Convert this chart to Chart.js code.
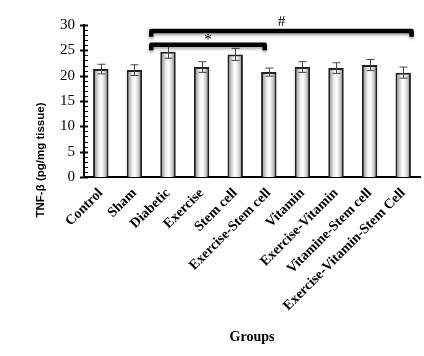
<!DOCTYPE html>
<html>
<head>
<meta charset="utf-8">
<script src="https://cdn.jsdelivr.net/npm/chart.js@4.4.1/dist/chart.umd.min.js"></script>
<style>
  html, body { margin: 0; padding: 0; background: #ffffff; }
  #wrap { width: 424px; height: 356px; position: relative; }
</style>
</head>
<body>
<div id="wrap"><canvas id="c" width="424" height="356"></canvas></div>
<script>
// ---- data ----
const categories = ['Control', 'Sham', 'Diabetic', 'Exercise', 'Stem cell', 'Exercise-Stem cell',
  'Vitamin', 'Exercise-Vitamin', 'Vitamine-Stem cell', 'Exercise-Vitamin-Stem Cell'];
const meanValues = [21.3, 21.1, 24.7, 21.7, 24.2, 20.7, 21.7, 21.5, 22.1, 20.6];
const errorValues = [0.95, 1.05, 1.25, 1.05, 1.2, 0.8, 1.05, 1.05, 1.1, 1.1];
const yTickValues = [0, 5, 10, 15, 20, 25, 30];
const yAxisTitle = 'TNF-β (pg/mg tissue)';
const xAxisTitle = 'Groups';
// significance brackets: label, start category, end category, bracket level (value units)
const bracketLabels = ['*', '#'];
const bracketStart = [2, 2];
const bracketEnd = [5, 9];
const bracketLevel = [26.1, 28.8];

const serif = '"Liberation Serif", "Times New Roman", serif';

function barGradient(ctx) {
  const chart = ctx.chart;
  if (!chart.chartArea || ctx.type !== 'data') return '#dddddd';
  const x = chart.scales.x;
  const cx = x.getPixelForValue(ctx.dataIndex);
  const cw = x.width / categories.length;
  const w = cw * 0.46;
  const g = chart.ctx.createLinearGradient(cx - w / 2, 0, cx + w / 2, 0);
  g.addColorStop(0, '#6a6a6a');
  g.addColorStop(0.18, '#b4b4b4');
  g.addColorStop(0.38, '#f2f2f2');
  g.addColorStop(0.55, '#ffffff');
  g.addColorStop(0.78, '#c8c8c8');
  g.addColorStop(1, '#555555');
  return g;
}

const extrasPlugin = {
  id: 'extras',
  afterDatasetsDraw(chart) {
    const { ctx, scales: { x, y } } = chart;
    const cw = x.width / categories.length;
    ctx.save();
    // error bars
    ctx.strokeStyle = '#444444';
    ctx.lineWidth = 1;
    meanValues.forEach((v, i) => {
      const cx = Math.round(x.getPixelForValue(i)) + 0.5;
      const yt = y.getPixelForValue(v + errorValues[i]);
      const yb = y.getPixelForValue(v - errorValues[i]);
      ctx.beginPath();
      ctx.moveTo(cx, yt); ctx.lineTo(cx, yb);
      ctx.moveTo(cx - 4, yt); ctx.lineTo(cx + 4, yt);
      ctx.moveTo(cx - 4, yb); ctx.lineTo(cx + 4, yb);
      ctx.stroke();
    });
    // minor / major ticks on y axis
    const ax = x.left;
    ctx.strokeStyle = '#000000';
    for (let v = y.min; v <= y.max; v += 1) {
      const py = Math.round(y.getPixelForValue(v)) + 0.5;
      ctx.beginPath();
      if (v % 5 === 0) { ctx.lineWidth = 2; ctx.moveTo(ax - 4, py); ctx.lineTo(ax + 4, py); }
      else { ctx.lineWidth = 1; ctx.moveTo(ax, py); ctx.lineTo(ax + 4, py); }
      ctx.stroke();
    }
    // significance brackets
    bracketLabels.forEach((lab, k) => {
      const x1 = x.getPixelForValue(bracketStart[k]) - cw * 0.5;
      const x2 = k === 0 ? x.getPixelForValue(bracketEnd[k]) - cw * 0.12
                         : x.getPixelForValue(bracketEnd[k]) + cw * 0.25;
      const yl = y.getPixelForValue(bracketLevel[k]);
      const yd = y.getPixelForValue(bracketLevel[k] - 1.1);
      ctx.save();
      ctx.shadowColor = 'rgba(0,0,0,0.35)';
      ctx.shadowBlur = 3;
      ctx.shadowOffsetY = 2;
      ctx.strokeStyle = '#000000';
      ctx.lineWidth = 4.5;
      ctx.lineJoin = 'round';
      ctx.beginPath();
      ctx.moveTo(x1, yd);
      ctx.lineTo(x1, yl);
      ctx.lineTo(x2, yl);
      ctx.lineTo(x2, yd);
      ctx.stroke();
      ctx.restore();
      ctx.fillStyle = '#000000';
      ctx.font = '15px ' + serif;
      ctx.textAlign = 'center';
      ctx.textBaseline = 'alphabetic';
      const m = ctx.measureText(lab);
      const glyphBottom = yl - 2.25 - 2.5;
      ctx.fillText(lab, (x1 + x2) / 2, glyphBottom - m.actualBoundingBoxDescent);
    });
    // y-axis title (placed lower than the chart-area centre, as in the original)
    ctx.save();
    ctx.translate(41, y.bottom - 17);
    ctx.rotate(-Math.PI / 2);
    ctx.fillStyle = '#000000';
    ctx.font = 'bold 11.5px "Liberation Sans", Arial, sans-serif';
    ctx.textAlign = 'center';
    ctx.textBaseline = 'middle';
    ctx.fillText(yAxisTitle, 0, 0);
    ctx.restore();
    ctx.restore();
  }
};

new Chart(document.getElementById('c'), {
  type: 'bar',
  data: {
    labels: categories,
    datasets: [{
      data: meanValues,
      backgroundColor: barGradient,
      borderColor: '#222222',
      borderWidth: 2,
      barPercentage: 0.46,
      categoryPercentage: 1.0
    }]
  },
  options: {
    responsive: false,
    animation: false,
    devicePixelRatio: 1,
    layout: { padding: { top: 25, right: 4, left: 51, bottom: 27 } },
    plugins: { legend: { display: false }, tooltip: { enabled: false } },
    scales: {
      x: {
        grid: { display: false, drawTicks: false },
        border: { display: true, color: '#000000', width: 2 },
        ticks: {
          color: '#000000',
          font: { family: serif, size: 14, weight: 'bold' },
          maxRotation: 45, minRotation: 45, autoSkip: false, padding: 8
        },
        title: {
          display: true, text: xAxisTitle, color: '#000000',
          font: { family: serif, size: 14, weight: 'bold' },
          padding: { top: 9, bottom: -17 }
        }
      },
      y: {
        min: 0, max: 30,
        afterBuildTicks(scale) { scale.ticks = yTickValues.map(v => ({ value: v })); },
        grid: { display: false, drawTicks: false },
        border: { display: true, color: '#000000', width: 2 },
        ticks: {
          color: '#000000',
          font: { family: serif, size: 15 },
          padding: 9
        },
        title: { display: false }
      }
    }
  },
  plugins: [extrasPlugin]
});
</script>
</body>
</html>
